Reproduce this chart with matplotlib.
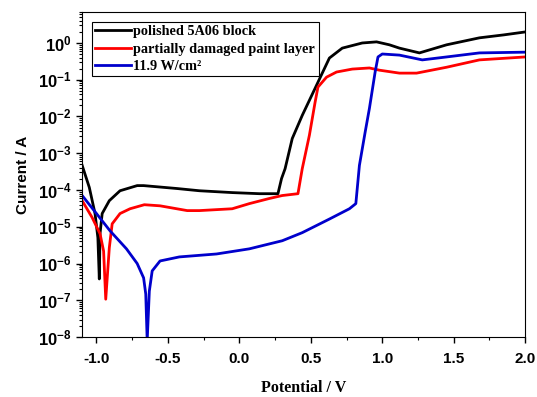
import numpy as np
import matplotlib
matplotlib.use("Agg")
from matplotlib import pyplot as plt
from matplotlib.ticker import LogLocator, FuncFormatter, MultipleLocator, NullFormatter

plt.rcParams['mathtext.fontset'] = 'custom'
plt.rcParams['mathtext.bf'] = 'Liberation Sans:bold'
plt.rcParams['mathtext.rm'] = 'Liberation Sans:bold'

# polarisation curves: potential (V) and log10 of current (A)
black_V = [-1.10, -1.05, -1.01, -0.99, -0.98, -0.975, -0.96, -0.91, -0.835, -0.715, -0.67,
           -0.435, -0.28, -0.05, 0.14, 0.27, 0.295, 0.32, 0.37, 0.44, 0.54, 0.63, 0.72,
           0.86, 0.96, 1.05, 1.12, 1.26, 1.45, 1.68, 1.85, 2.00]
black_logI = [-3.33, -3.93, -4.64, -5.30, -6.42, -5.19, -4.64, -4.29, -4.02, -3.88, -3.88,
              -3.96, -4.02, -4.07, -4.10, -4.10, -3.69, -3.42, -2.60, -1.97, -1.15, -0.41, -0.14,
              0.00, 0.03, -0.05, -0.14, -0.27, -0.05, 0.14, 0.22, 0.30]

red_V = [-1.10, -1.03, -0.975, -0.95, -0.935, -0.91, -0.89, -0.835, -0.765, -0.665, -0.555,
         -0.365, -0.28, -0.05, 0.07, 0.21, 0.30, 0.41, 0.44, 0.49, 0.53, 0.55, 0.61, 0.68,
         0.79, 0.91, 0.98, 1.12, 1.24, 1.45, 1.68, 2.00]
red_logI = [-4.29, -4.75, -5.19, -5.66, -6.97, -5.57, -4.92, -4.64, -4.51, -4.40, -4.43,
            -4.56, -4.56, -4.51, -4.37, -4.23, -4.15, -4.10, -3.42, -2.51, -1.61, -1.20, -0.93, -0.79,
            -0.71, -0.68, -0.74, -0.82, -0.82, -0.66, -0.46, -0.38]

blue_V = [-1.10, -1.00, -0.905, -0.79, -0.715, -0.67, -0.655, -0.645, -0.63, -0.61, -0.555,
          -0.42, -0.16, 0.07, 0.30, 0.44, 0.63, 0.77, 0.815, 0.84, 0.88, 0.91, 0.95, 0.97,
          1.00, 1.12, 1.28, 1.45, 1.68, 2.00]
blue_logI = [-4.15, -4.64, -5.11, -5.60, -6.00, -6.39, -6.83, -8.10, -6.75, -6.20, -5.93,
             -5.82, -5.74, -5.60, -5.38, -5.16, -4.79, -4.51, -4.37, -3.33, -2.43, -1.78, -0.79, -0.38,
             -0.30, -0.33, -0.46, -0.38, -0.27, -0.25]

labels = ['polished 5A06 block', 'partially damaged paint layer', '11.9 W/cm\u00b2']

fig = plt.figure(figsize=(5.37, 3.97), dpi=100)
ax = fig.add_axes([0.153, 0.151, 0.825, 0.819])

ax.plot(black_V, 10 ** np.array(black_logI), color='black', lw=2, label=labels[0])
ax.plot(red_V, 10 ** np.array(red_logI), color='#ff0000', lw=2, label=labels[1])
ax.plot(blue_V, 10 ** np.array(blue_logI), color='#0000cc', lw=2, label=labels[2])

ax.set_yscale('log')
ax.set_xlim(-1.1, 2.0)
ax.set_ylim(1e-8, 7)

ax.xaxis.set_major_locator(MultipleLocator(0.5))
ax.xaxis.set_minor_locator(MultipleLocator(0.25))
ax.yaxis.set_major_locator(LogLocator(base=10, numticks=30))
ax.yaxis.set_minor_locator(LogLocator(base=10, subs=np.arange(2, 10), numticks=100))
ax.yaxis.set_minor_formatter(NullFormatter())
ax.yaxis.set_major_formatter(FuncFormatter(lambda v, p: r'$\mathbf{10^{%d}}$' % round(np.log10(v))))
ax.xaxis.set_major_formatter(FuncFormatter(lambda v, p: '%.1f' % v))

ax.tick_params(which='both', direction='out', top=False, right=False)
ax.tick_params(which='major', length=4, width=1)
ax.tick_params(which='minor', length=2, width=0.8)
ax.tick_params(axis='x', pad=7)
for t in ax.get_xticklabels():
    t.set_fontfamily('Liberation Sans')
    t.set_fontweight('bold')
    t.set_fontsize(11)
ax.tick_params(axis='y', labelsize=12)

ax.set_xlabel('Potential / V', fontfamily='Liberation Serif', fontweight='bold', fontsize=11.5, labelpad=10)
ax.set_ylabel('Current / A', fontfamily='Liberation Sans', fontweight='bold', fontsize=11, labelpad=6)

leg = ax.legend(loc='upper left', bbox_to_anchor=(0.022, 0.97), fancybox=False, framealpha=1,
                edgecolor='black', borderpad=0.25, labelspacing=0.3, handlelength=2.45,
                handletextpad=0.2, borderaxespad=0,
                prop={'family': 'Liberation Serif', 'weight': 'bold', 'size': 10.3})
leg.get_frame().set_linewidth(0.8)

plt.savefig('out.png', dpi=100)
